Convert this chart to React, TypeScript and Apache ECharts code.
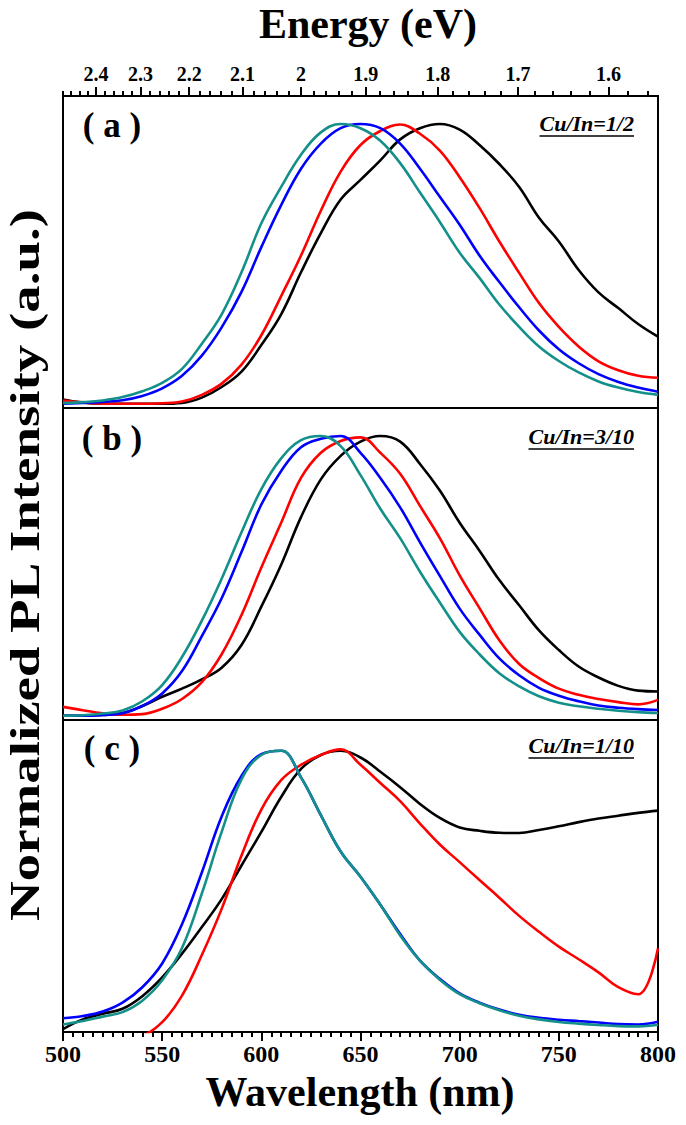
import React, { useEffect, useRef } from "react";
import * as echarts from "echarts";

// Wavelength grid (nm) shared by all curves
const WAVELENGTH = [500, 510, 520, 530, 540, 550, 560, 570, 580, 590, 600, 610, 620, 630, 640, 650, 660, 670, 680, 690, 700, 710, 720, 730, 740, 750, 760, 770, 780, 790, 800];

// Panel (a) Cu/In = 1/2
const A_BLACK = [0.015, 0.004, 0, 0, 0, 0, 0.003, 0.022, 0.06, 0.115, 0.21, 0.32, 0.47, 0.61, 0.73, 0.8, 0.87, 0.945, 0.985, 1.0, 0.98, 0.925, 0.857, 0.775, 0.665, 0.58, 0.478, 0.398, 0.342, 0.285, 0.24];
const A_RED = [0.012, 0.005, 0, 0, 0, 0.002, 0.008, 0.032, 0.072, 0.14, 0.245, 0.385, 0.53, 0.69, 0.83, 0.925, 0.975, 0.998, 0.965, 0.905, 0.81, 0.70, 0.58, 0.468, 0.36, 0.275, 0.205, 0.152, 0.12, 0.1, 0.093];
const A_BLUE = [0, 0.003, 0.007, 0.013, 0.028, 0.055, 0.1, 0.172, 0.273, 0.40, 0.56, 0.71, 0.84, 0.93, 0.985, 1.0, 0.985, 0.93, 0.84, 0.74, 0.64, 0.53, 0.435, 0.345, 0.262, 0.195, 0.145, 0.106, 0.078, 0.058, 0.043];
const A_TEAL = [0.003, 0.006, 0.012, 0.024, 0.045, 0.075, 0.125, 0.215, 0.32, 0.47, 0.645, 0.775, 0.89, 0.97, 1.0, 0.985, 0.94, 0.86, 0.755, 0.65, 0.54, 0.45, 0.355, 0.275, 0.205, 0.153, 0.112, 0.08, 0.058, 0.042, 0.032];

// Panel (b) Cu/In = 3/10
const B_BLACK = [0, 0, 0.003, 0.01, 0.035, 0.068, 0.097, 0.13, 0.172, 0.253, 0.39, 0.54, 0.71, 0.845, 0.929, 0.98, 1.0, 0.98, 0.9, 0.805, 0.69, 0.59, 0.485, 0.395, 0.305, 0.235, 0.176, 0.137, 0.107, 0.09, 0.087];
const B_RED = [0.032, 0.02, 0.009, 0.004, 0.006, 0.025, 0.06, 0.12, 0.22, 0.36, 0.53, 0.69, 0.85, 0.94, 0.982, 0.995, 0.94, 0.865, 0.75, 0.635, 0.502, 0.385, 0.27, 0.185, 0.135, 0.097, 0.075, 0.06, 0.049, 0.041, 0.057];
const B_BLUE = [0, 0, 0.003, 0.009, 0.035, 0.08, 0.16, 0.285, 0.42, 0.585, 0.755, 0.875, 0.96, 0.99, 1.0, 0.94, 0.85, 0.745, 0.62, 0.5, 0.383, 0.29, 0.205, 0.145, 0.1, 0.072, 0.052, 0.037, 0.029, 0.024, 0.021];
const B_TEAL = [0, 0.002, 0.008, 0.019, 0.052, 0.11, 0.21, 0.34, 0.49, 0.656, 0.81, 0.92, 0.985, 1.0, 0.964, 0.86, 0.74, 0.635, 0.515, 0.405, 0.3, 0.22, 0.152, 0.105, 0.07, 0.047, 0.034, 0.025, 0.018, 0.013, 0.01];

// Panel (c) Cu/In = 1/10
const C_BLACK = [-0.005, 0.03, 0.05, 0.068, 0.113, 0.18, 0.265, 0.36, 0.46, 0.58, 0.7, 0.825, 0.925, 0.975, 0.99, 0.966, 0.915, 0.86, 0.8, 0.75, 0.716, 0.704, 0.697, 0.696, 0.707, 0.72, 0.735, 0.748, 0.758, 0.768, 0.776];
const C_RED = [-0.06, -0.06, -0.05, -0.045, -0.03, 0.02, 0.115, 0.26, 0.425, 0.616, 0.78, 0.885, 0.94, 0.975, 0.995, 0.94, 0.875, 0.81, 0.73, 0.655, 0.592, 0.528, 0.465, 0.4, 0.343, 0.29, 0.245, 0.198, 0.145, 0.12, 0.284];
const C_BLUE = [0.034, 0.042, 0.058, 0.09, 0.145, 0.23, 0.37, 0.555, 0.755, 0.9, 0.978, 0.99, 0.895, 0.76, 0.63, 0.54, 0.44, 0.335, 0.24, 0.175, 0.123, 0.09, 0.065, 0.047, 0.036, 0.029, 0.024, 0.019, 0.013, 0.012, 0.022];
const C_TEAL = [0.012, 0.024, 0.04, 0.056, 0.097, 0.17, 0.285, 0.48, 0.7, 0.888, 0.975, 0.99, 0.895, 0.76, 0.63, 0.54, 0.44, 0.33, 0.24, 0.172, 0.12, 0.088, 0.063, 0.043, 0.03, 0.021, 0.015, 0.01, 0.006, 0.005, 0.011];

const PANEL_LABELS = ["( a )", "( b )", "( c )"];
const RATIO_LABELS = ["Cu/In=1/2", "Cu/In=3/10", "Cu/In=1/10"];
const WAVELENGTH_TICKS = [500, 550, 600, 650, 700, 750, 800];
const ENERGY_MAJOR = [2.4, 2.3, 2.2, 2.1, 2.0, 1.9, 1.8, 1.7, 1.6];
const HC = 1240; // eV·nm

const COLORS = { black: "#000000", red: "#ff0000", blue: "#0000ff", teal: "#14908b" };
const FONT = "'Liberation Serif', 'Times New Roman', serif";

const PANELS = [
  { black: A_BLACK, red: A_RED, blue: A_BLUE, teal: A_TEAL },
  { black: B_BLACK, red: B_RED, blue: B_BLUE, teal: B_TEAL },
  { black: C_BLACK, red: C_RED, blue: C_BLUE, teal: C_TEAL },
];

function measure(text: string, font: string): number {
  const c = document.createElement("canvas").getContext("2d");
  if (!c) return text.length * 10;
  c.font = font;
  return c.measureText(text).width;
}

export default function App() {
  const ref = useRef<HTMLDivElement>(null);

  useEffect(() => {
    if (!ref.current) return;
    const chart = echarts.init(ref.current, undefined, { renderer: "svg" });

    const left = 63;
    const width = 595;
    const tops = [96, 408, 720];
    const height = 312;

    const energyMinor: number[] = [];
    for (let k = 156; k <= 248; k += 2) {
      if (k % 10 !== 0) energyMinor.push(HC / (k / 100));
    }

    const series: any[] = [];
    const xIdx = [0, 2, 3];
    PANELS.forEach((p, i) => {
      (["black", "red", "blue", "teal"] as const).forEach((key) => {
        series.push({
          type: "line",
          xAxisIndex: xIdx[i],
          yAxisIndex: i,
          data: WAVELENGTH.map((w, j) => [w, p[key][j]]),
          showSymbol: false,
          symbol: "none",
          smooth: 0.4,
          clip: true,
          lineStyle: { color: COLORS[key], width: 2.6 },
          z: 3,
        });
      });
    });

    const ratioFont = `italic bold 22px ${FONT}`;
    const ratioY = [136, 449, 758];
    const graphic: any[] = [];
    graphic.push({
      type: "text", x: 368, y: 24,
      style: { text: "Energy (eV)", fontFamily: FONT, fontWeight: "bold", fontSize: 42, fill: "#000", textAlign: "center", textVerticalAlign: "middle", align: "center", verticalAlign: "middle" },
    });
    graphic.push({
      type: "text", x: 360, y: 1092,
      style: { text: "Wavelength (nm)", fontFamily: FONT, fontWeight: "bold", fontSize: 42, fill: "#000", textAlign: "center", textVerticalAlign: "middle", align: "center", verticalAlign: "middle" },
    });
    const yTitle = "Normalized PL Intensity (a.u.)";
    const yW = measure(yTitle, `bold 42px ${FONT}`);
    graphic.push({
      type: "text", x: 25, y: 565, rotation: Math.PI / 2, scaleX: 715 / yW,
      style: { text: yTitle, fontFamily: FONT, fontWeight: "bold", fontSize: 42, fill: "#000", textAlign: "center", textVerticalAlign: "middle", align: "center", verticalAlign: "middle" },
    });
    const labelY = [125, 438, 748];
    PANEL_LABELS.forEach((t, i) => {
      graphic.push({
        type: "text", x: 112, y: labelY[i],
        style: { text: t, fontFamily: FONT, fontWeight: "bold", fontSize: 35, fill: "#000", textAlign: "center", textVerticalAlign: "middle", align: "center", verticalAlign: "middle" },
      });
      const w = measure(RATIO_LABELS[i], ratioFont);
      graphic.push({
        type: "text", x: 634, y: ratioY[i] - 2,
        style: { text: RATIO_LABELS[i], fontFamily: FONT, fontWeight: "bold", fontStyle: "italic", fontSize: 22, fill: "#000", textAlign: "right", textVerticalAlign: "bottom", align: "right", verticalAlign: "bottom" },
      });
      graphic.push({
        type: "line",
        shape: { x1: 634 - w, y1: ratioY[i], x2: 634, y2: ratioY[i] },
        style: { stroke: "#000", lineWidth: 1.5 },
      });
    });

    const hidden = { show: false };
    const option: any = {
      animation: false,
      backgroundColor: "#ffffff",
      grid: tops.map((top) => ({ left, top, width, height, show: true, borderColor: "#000", borderWidth: 2, backgroundColor: "transparent", containLabel: false })),
      xAxis: [
        {
          gridIndex: 0, type: "value", min: 500, max: 800, position: "top",
          axisLine: { show: true, onZero: false, lineStyle: { color: "#000", width: 2 } },
          axisTick: { show: true, length: 9, lineStyle: { color: "#000", width: 2 }, customValues: ENERGY_MAJOR.map((e) => HC / e) },
          axisLabel: {
            show: true, customValues: ENERGY_MAJOR.map((e) => HC / e), margin: 12,
            formatter: (v: number) => String(Math.round((HC / v) * 10) / 10),
            fontFamily: FONT, fontWeight: "bold", fontSize: 20, color: "#000",
          },
          splitLine: hidden,
        },
        {
          gridIndex: 0, type: "value", min: 500, max: 800, position: "top",
          axisLine: { show: false, onZero: false },
          axisTick: { show: true, length: 5, lineStyle: { color: "#000", width: 2 }, customValues: energyMinor },
          axisLabel: hidden,
          splitLine: hidden,
        },
        { gridIndex: 1, type: "value", min: 500, max: 800, show: false, axisLine: { show: false, onZero: false }, splitLine: hidden },
        {
          gridIndex: 2, type: "value", min: 500, max: 800, interval: 50, position: "bottom",
          axisLine: { show: true, onZero: false, lineStyle: { color: "#000", width: 2 } },
          axisTick: { show: true, length: 9, lineStyle: { color: "#000", width: 2 } },
          minorTick: { show: true, splitNumber: 10, length: 5, lineStyle: { color: "#000", width: 2 } },
          axisLabel: {
            show: true, margin: 10, fontFamily: FONT, fontWeight: "bold", fontSize: 24, color: "#000",
            customValues: WAVELENGTH_TICKS,
          },
          splitLine: hidden,
          minorSplitLine: hidden,
        },
      ],
      yAxis: [0, 1, 2].map((i) => ({
        gridIndex: i, type: "value", min: -0.015, max: 1.1, show: false, axisLine: { show: false, onZero: false }, splitLine: hidden,
      })),
      series,
      graphic,
    };

    chart.setOption(option);
    return () => chart.dispose();
  }, []);

  return <div ref={ref} style={{ position: "absolute", left: 0, top: 0, width: 686, height: 1125, background: "#fff" }} />;
}
